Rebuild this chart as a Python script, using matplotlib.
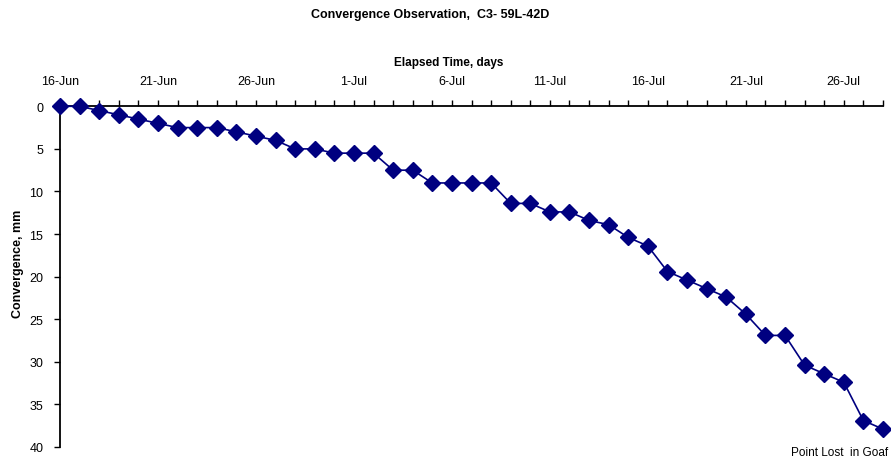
import matplotlib
matplotlib.use("Agg")
import matplotlib.pyplot as plt
import matplotlib.dates as mdates
import pandas as pd

plt.rcParams['font.family'] = ['Liberation Sans', 'DejaVu Sans']

title = "Convergence Observation,  C3- 59L-42D"
xlabel = "Elapsed Time, days"
ylabel = "Convergence, mm"
note = "Point Lost  in Goaf"

start_date = "2008-06-16"
end_date = "2008-07-28"
dates = pd.date_range(start_date, end_date, freq="D")
convergence = [0, 0, 0.5, 1, 1.5, 2, 2.5, 2.5, 2.5, 3, 3.5, 4, 5, 5, 5.5, 5.5, 5.5,
               7.5, 7.5, 9, 9, 9, 9, 11.4, 11.4, 12.4, 12.4, 13.4, 13.9, 15.4, 16.4,
               19.4, 20.4, 21.4, 22.4, 24.4, 26.9, 26.9, 30.4, 31.4, 32.4, 36.9, 37.9]
yticks = [0, 5, 10, 15, 20, 25, 30, 35, 40]

W, H = 891, 460
fig = plt.figure(figsize=(W / 100, H / 100), dpi=100)
ax = fig.add_axes([60 / W, 1 - 448 / H, (883 - 60) / W, (448 - 107.3) / H])

ax.plot(dates, convergence, color="#000080", lw=1.2, marker="D", ms=7.8,
        markerfacecolor="#000080", markeredgecolor="#000080", clip_on=False, zorder=3)

ax.set_xlim(pd.Timestamp(start_date), pd.Timestamp(end_date))
ax.set_ylim(40, 0)
ax.set_yticks(yticks)

ax.xaxis.tick_top()
ax.xaxis.set_major_locator(mdates.DayLocator(bymonthday=[1, 6, 11, 16, 21, 26]))
ax.xaxis.set_minor_locator(mdates.DayLocator())
ax.xaxis.set_major_formatter(mdates.DateFormatter("%-d-%b"))

for s in ["right", "bottom"]:
    ax.spines[s].set_visible(False)
for s in ["left", "top"]:
    ax.spines[s].set_linewidth(1.3)
    ax.spines[s].set_color("black")

ax.tick_params(axis="x", which="both", direction="out", length=4, width=1.0,
               labelsize=9, pad=10, top=True, bottom=False)
ax.tick_params(axis="y", which="both", direction="out", length=4, width=1.0,
               labelsize=9, pad=8)

fig.text(430 / W, 1 - 15 / H, title, ha="center", va="center", fontsize=9, fontweight="bold")
fig.text(449 / W, 1 - 63 / H, xlabel, ha="center", va="center", fontsize=8.5, fontweight="bold")
fig.text(18 / W, 1 - 264 / H, ylabel, ha="center", va="center", fontsize=9,
         fontweight="bold", rotation=90)
fig.text(888 / W, 1 - 453 / H, note, ha="right", va="center", fontsize=8.5)

fig.savefig("out.png", dpi=100)
